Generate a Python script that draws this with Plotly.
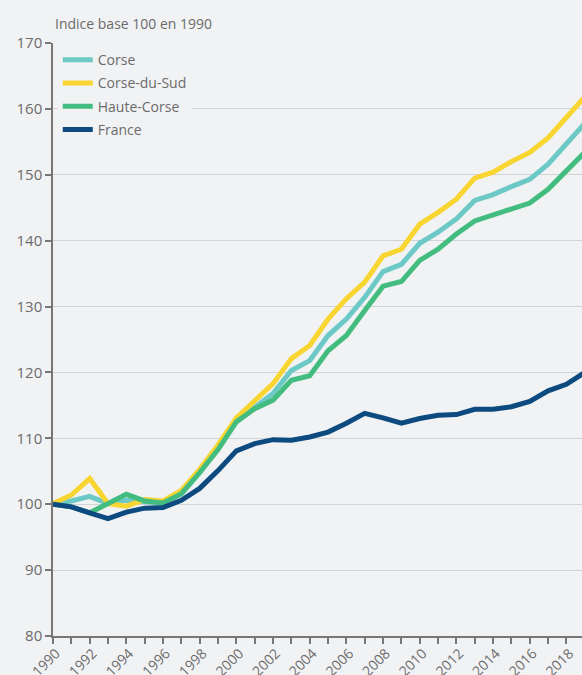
import plotly.graph_objects as go

# Données (indice base 100 en 1990)
annees = list(range(1990, 2020))

corse = [100.0, 100.5, 101.2, 100.1, 100.6, 100.4, 100.2, 101.6, 105.0, 108.7,
         112.8, 114.7, 116.8, 120.3, 121.8, 125.6, 128.1, 131.4, 135.3, 136.4,
         139.6, 141.3, 143.3, 146.1, 147.0, 148.2, 149.3, 151.6, 154.6, 157.8]

corse_du_sud = [100.1, 101.4, 103.9, 100.1, 99.7, 100.7, 100.5, 102.1, 105.3, 109.0,
                113.1, 115.8, 118.3, 122.1, 124.1, 128.1, 131.2, 133.7, 137.7, 138.7,
                142.5, 144.3, 146.3, 149.5, 150.4, 152.0, 153.4, 155.6, 158.7, 161.8]

haute_corse = [100.0, 99.6, 98.7, 100.1, 101.5, 100.5, 100.2, 101.6, 104.8, 108.3,
               112.5, 114.5, 115.8, 118.8, 119.5, 123.3, 125.6, 129.4, 133.1, 133.8,
               137.0, 138.7, 141.0, 143.0, 143.9, 144.8, 145.7, 147.8, 150.6, 153.4]

france = [100.0, 99.6, 98.7, 97.8, 98.8, 99.4, 99.5, 100.6, 102.4, 105.1,
          108.1, 109.2, 109.8, 109.7, 110.2, 110.95, 112.3, 113.8, 113.1, 112.3,
          113.0, 113.5, 113.6, 114.4, 114.4, 114.8, 115.6, 117.2, 118.2, 120.0]

series = [
    ("Corse", corse, "#6cc9c5"),
    ("Corse-du-Sud", corse_du_sud, "#f8d531"),
    ("Haute-Corse", haute_corse, "#43bd7f"),
    ("France", france, "#0d4a7f"),
]

fond = "#f1f2f4"
gris_texte = "#6b6b6b"
gris_axe = "#777777"

fig = go.Figure()

for nom, valeurs, couleur in series:
    fig.add_trace(go.Scatter(
        x=annees,
        y=valeurs,
        name=nom,
        legendgroup=nom,
        mode="lines",
        line=dict(color=couleur, width=5),
    ))

fig.update_layout(
    width=582,
    height=675,
    paper_bgcolor=fond,
    plot_bgcolor=fond,
    font=dict(family="Open Sans", size=14, color=gris_texte),
    margin=dict(l=53, r=0, t=43, b=39),
    showlegend=True,
    legend=dict(
        x=0.009, y=0.998,
        xanchor="left", yanchor="top",
        bgcolor=fond,
        font=dict(size=14, color=gris_texte),
        tracegroupgap=2,
        itemwidth=30,
    ),
    xaxis=dict(
        range=[1990, 2018.85],
        tickmode="linear",
        tick0=1990,
        dtick=2,
        tickangle=-45,
        ticks="outside",
        ticklen=6,
        tickwidth=1.5,
        tickcolor=gris_axe,
        tickfont=dict(size=14),
        ticklabelstandoff=-4,
        ticklabelshift=3,
        showline=True,
        linecolor=gris_axe,
        linewidth=1.5,
        showgrid=False,
        zeroline=False,
        automargin=False,
        minor=dict(dtick=1, ticks="outside", ticklen=6, tickwidth=1.5, tickcolor=gris_axe),
    ),
    yaxis=dict(
        range=[80, 170],
        tickmode="linear",
        tick0=80,
        dtick=10,
        ticks="outside",
        ticklen=6,
        tickwidth=1.5,
        tickcolor=gris_axe,
        tickfont=dict(size=15),
        showline=True,
        linecolor=gris_axe,
        linewidth=1.5,
        gridcolor="#d2d3d6",
        gridwidth=1.3,
        zeroline=False,
        automargin=False,
    ),
    annotations=[dict(
        text="Indice base 100 en 1990",
        xref="paper", yref="paper",
        x=0, y=1,
        xanchor="left", yanchor="bottom",
        yshift=8,
        showarrow=False,
        font=dict(size=14, color=gris_texte),
    )],
)

# sans marge sur le body, la figure occupe exactement la fenêtre
fig.write_html(
    "out.html",
    config={"displayModeBar": False},
    post_script="document.body.style.margin='0';",
)
